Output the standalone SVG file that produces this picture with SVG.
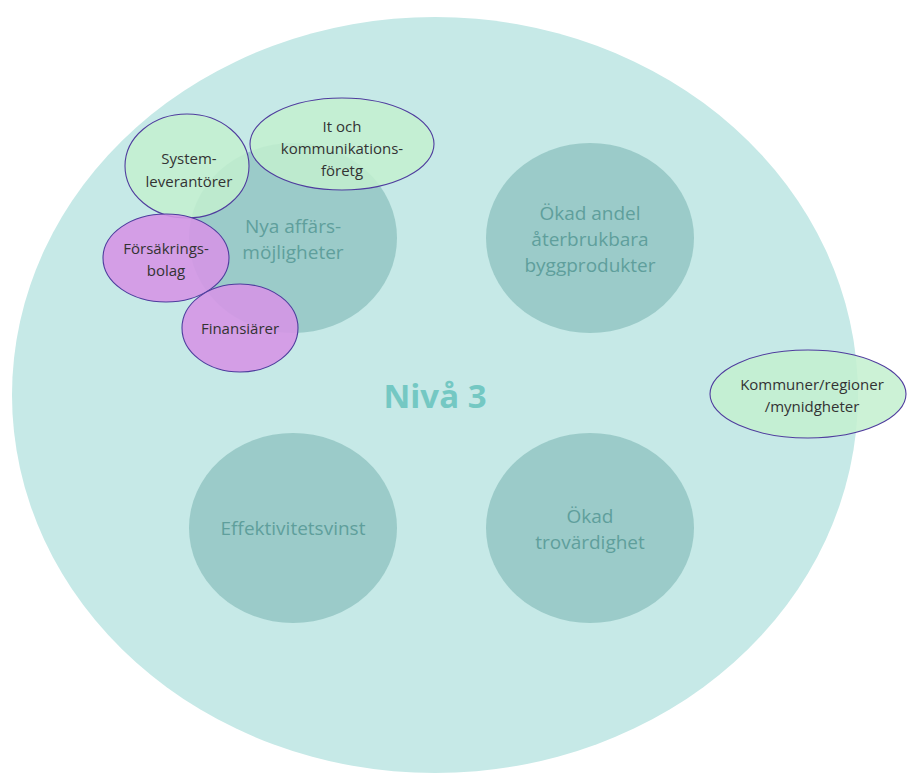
<svg xmlns="http://www.w3.org/2000/svg" width="907" height="773" viewBox="0 0 907 773">
  <style>
    .inner { fill: #93c6c3; fill-opacity: 0.85; }
    .inner-label { font-family: "Open Sans", "Liberation Sans", sans-serif; font-size: 19px; fill: #5f9f9c; text-anchor: middle; }
    .green { fill: #c3f0cf; fill-opacity: 0.85; stroke: #4f3c9e; stroke-width: 1.1; }
    .purple { fill: #d596e6; fill-opacity: 0.9; stroke: #4f3c9e; stroke-width: 1.1; }
    .actor-label { font-family: "Open Sans", "Liberation Sans", sans-serif; font-size: 15px; fill: #333333; text-anchor: middle; }
  </style>
  <rect width="907" height="773" fill="#ffffff"/>

  <!-- level 3 background -->
  <g id="level3">
    <ellipse cx="435" cy="395" rx="423" ry="378" fill="#c6e9e7"/>
    <text x="435" y="408" font-family="Open Sans, Liberation Sans, sans-serif" font-size="33" font-weight="bold" fill="#74c8c3" text-anchor="middle">Nivå 3</text>
  </g>

  <!-- outcome circles -->
  <g id="nya-affarsmojligheter">
    <ellipse class="inner" cx="293" cy="238" rx="104" ry="95"/>
    <text class="inner-label" x="293" y="233">Nya affärs-</text>
    <text class="inner-label" x="293" y="259">möjligheter</text>
  </g>
  <g id="okad-andel">
    <ellipse class="inner" cx="590" cy="238" rx="104" ry="95"/>
    <text class="inner-label" x="590" y="220">Ökad andel</text>
    <text class="inner-label" x="590" y="246">återbrukbara</text>
    <text class="inner-label" x="590" y="272">byggprodukter</text>
  </g>
  <g id="effektivitetsvinst">
    <ellipse class="inner" cx="293" cy="528" rx="104" ry="95"/>
    <text class="inner-label" x="293" y="535">Effektivitetsvinst</text>
  </g>
  <g id="okad-trovardighet">
    <ellipse class="inner" cx="590" cy="528" rx="104" ry="95"/>
    <text class="inner-label" x="590" y="523">Ökad</text>
    <text class="inner-label" x="590" y="549">trovärdighet</text>
  </g>

  <!-- actors -->
  <g id="systemleverantorer">
    <ellipse class="green" cx="187" cy="166" rx="62" ry="52"/>
    <text class="actor-label" x="189" y="164">System-</text>
    <text class="actor-label" x="189" y="187">leverantörer</text>
  </g>
  <g id="it-kommunikation">
    <ellipse class="green" cx="342" cy="144" rx="92" ry="46"/>
    <text class="actor-label" x="342" y="132">It och</text>
    <text class="actor-label" x="342" y="154">kommunikations-</text>
    <text class="actor-label" x="342" y="176">företg</text>
  </g>
  <g id="forsakringsbolag">
    <ellipse class="purple" cx="166" cy="258" rx="63" ry="44"/>
    <text class="actor-label" x="166" y="254">Försäkrings-</text>
    <text class="actor-label" x="166" y="276">bolag</text>
  </g>
  <g id="finansiarer">
    <ellipse class="purple" cx="240" cy="328" rx="58" ry="44"/>
    <text class="actor-label" x="240" y="334">Finansiärer</text>
  </g>
  <g id="kommuner">
    <ellipse class="green" cx="808" cy="394" rx="98" ry="44"/>
    <text class="actor-label" x="812" y="390">Kommuner/regioner</text>
    <text class="actor-label" x="812" y="412">/mynidgheter</text>
  </g>

  <g id="connectors"/>
</svg>
